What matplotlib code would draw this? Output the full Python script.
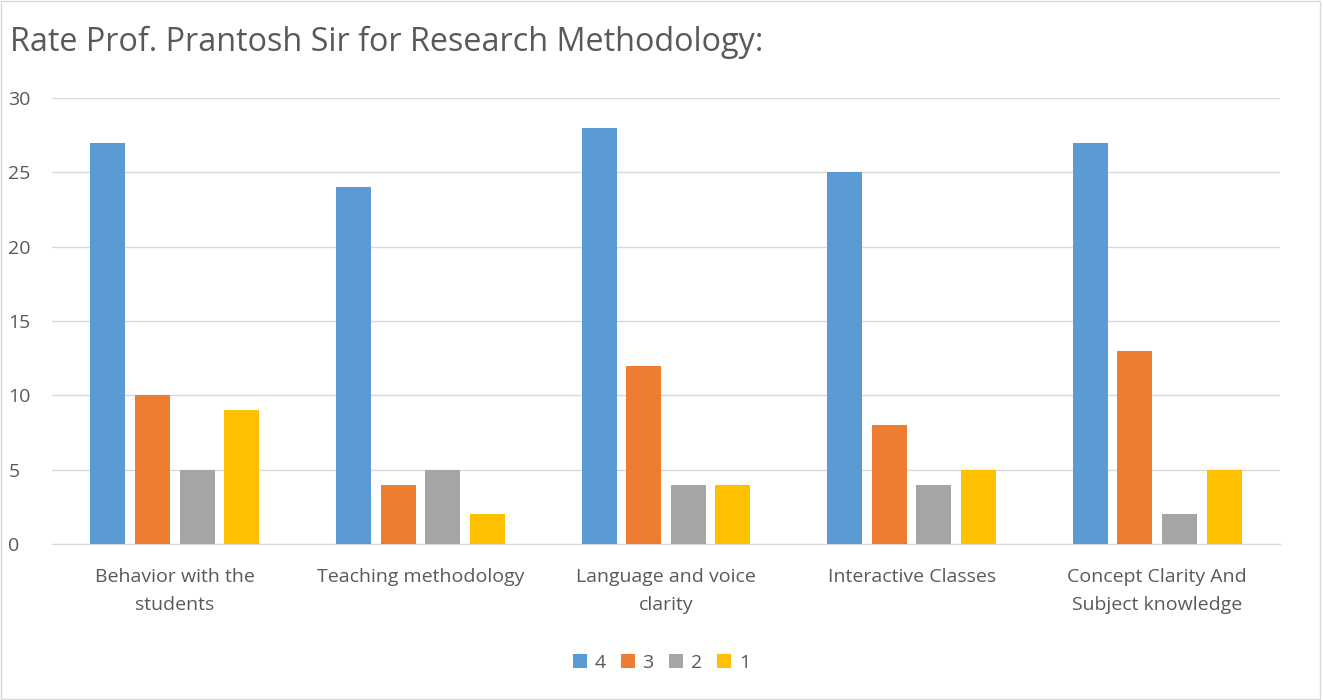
import matplotlib
matplotlib.use("Agg")
import matplotlib.pyplot as plt
import numpy as np
from matplotlib.patches import Rectangle

plt.rcParams['font.family'] = ['Open Sans', 'DejaVu Sans']

categories = ["Behavior with the\nstudents", "Teaching methodology", "Language and voice\nclarity",
              "Interactive Classes", "Concept Clarity And\nSubject knowledge"]
series_names = ["4", "3", "2", "1"]
rating_4 = [27, 24, 28, 25, 27]
rating_3 = [10, 4, 12, 8, 13]
rating_2 = [5, 5, 4, 4, 2]
rating_1 = [9, 2, 4, 5, 5]
colors = ["#5B9BD5", "#ED7D31", "#A5A5A5", "#FFC000"]
TXT = "#595959"

fig = plt.figure(figsize=(13.23, 7.0), dpi=100)
fig.patch.set_facecolor("white")
fig.add_artist(Rectangle((0.001, 0.001), 0.997, 0.997, transform=fig.transFigure,
                         fill=False, edgecolor="#D9D9D9", lw=1))
ax = fig.add_axes([52 / 1323, 1 - 544 / 700, (1280 - 52) / 1323, (544 - 98) / 700])

x = np.arange(len(categories))
w = 0.1425
step = 0.1816
for i, (vals, name) in enumerate(zip([rating_4, rating_3, rating_2, rating_1], series_names)):
    ax.bar(x + (i - 1.5) * step, vals, width=w, color=colors[i], label=name, zorder=3)

ax.set_xlim(-0.5, len(categories) - 0.5)
ax.set_ylim(0, 30)
ax.set_yticks(range(0, 31, 5))
ax.yaxis.grid(True, color="#D9D9D9", lw=1, zorder=0)
for s in ["top", "right", "left"]:
    ax.spines[s].set_visible(False)
ax.spines["bottom"].set_color("#D9D9D9")
ax.tick_params(axis="both", length=0, colors=TXT, labelsize=14)
ax.tick_params(axis="y", pad=31.5)
ax.tick_params(axis="x", pad=17)
ax.set_xticks(x)
ax.set_xticklabels(categories, linespacing=1.75)
plt.setp(ax.get_yticklabels(), ha="left")

fig.text(10 / 1323, 1 - 42 / 700, "Rate Prof. Prantosh Sir for Research Methodology:",
         fontsize=23.3, color=TXT, va="center", ha="left")

fig.legend(loc="center", bbox_to_anchor=(0.5, 1 - 663 / 700), ncol=4, frameon=False,
           fontsize=14, labelcolor=TXT, handlelength=0.7, handleheight=0.7,
           handletextpad=0.4, columnspacing=0.8)

fig.savefig("out.png", dpi=100)
